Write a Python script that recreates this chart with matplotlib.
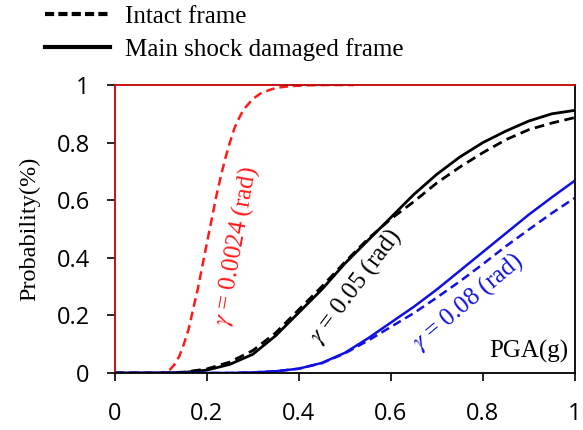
import matplotlib
matplotlib.use('Agg')
import matplotlib.pyplot as plt
from matplotlib.lines import Line2D

plt.rcParams['mathtext.fontset'] = 'stix'

# PGA grid (g)
pga = [0, 0.1, 0.15, 0.2, 0.25, 0.3, 0.35, 0.4, 0.45, 0.5,
       0.55, 0.6, 0.65, 0.7, 0.75, 0.8, 0.85, 0.9, 0.95, 1.0]

# gamma = 0.05 rad
p05_damaged = [0, 0, 0.002, 0.01, 0.03, 0.065, 0.13, 0.21, 0.29, 0.38,
               0.46, 0.54, 0.62, 0.69, 0.75, 0.80, 0.84, 0.875, 0.90, 0.912]
p05_intact = [0, 0, 0.003, 0.014, 0.038, 0.078, 0.14, 0.22, 0.30, 0.385,
              0.465, 0.535, 0.595, 0.66, 0.715, 0.765, 0.81, 0.845, 0.868, 0.887]

# gamma = 0.08 rad
p08_damaged = [0, 0, 0, 0, 0, 0.002, 0.006, 0.015, 0.035, 0.07,
               0.12, 0.175, 0.23, 0.29, 0.355, 0.42, 0.485, 0.55, 0.61, 0.668]
p08_intact = [0, 0, 0, 0, 0, 0.002, 0.006, 0.015, 0.034, 0.068,
              0.112, 0.16, 0.208, 0.262, 0.318, 0.378, 0.44, 0.498, 0.555, 0.608]

# gamma = 0.0024 rad (intact only)
pga_red = [0, 0.1, 0.11, 0.12, 0.13, 0.14, 0.15, 0.16, 0.17, 0.18, 0.19, 0.2,
           0.21, 0.22, 0.23, 0.24, 0.25, 0.26, 0.27, 0.28, 0.3, 0.32, 0.35,
           0.38, 0.42, 0.46, 0.52]
p0024_intact = [0, 0, 0.004, 0.012, 0.03, 0.058, 0.1, 0.15, 0.22, 0.29, 0.37, 0.45,
                0.53, 0.61, 0.68, 0.745, 0.8, 0.85, 0.885, 0.915, 0.952, 0.974, 0.99,
                0.996, 0.999, 1.0, 1.0]

fig = plt.figure(figsize=(5.83, 4.30), dpi=100)
ax = fig.add_axes([0.197, 0.1326, 0.789, 0.6697])

dash = (0, (3.5, 2))
ax.plot(pga_red, p0024_intact, color='#ff1a1a', lw=1.8, linestyle=dash)
ax.plot(pga, p05_intact, color='black', lw=2.0, linestyle=dash)
ax.plot(pga, p05_damaged, color='black', lw=2.0)
ax.plot(pga, p08_intact, color='#1010e0', lw=1.8, linestyle=dash)
ax.plot(pga, p08_damaged, color='#1010e0', lw=1.8)

ax.set_xlim(0, 1)
ax.set_ylim(0, 1)
ax.set_xticks([0, 0.2, 0.4, 0.6, 0.8, 1.0])
ax.set_xticklabels(['0', '0.2', '0.4', '0.6', '0.8', '1'])
ax.set_yticks([0, 0.2, 0.4, 0.6, 0.8, 1.0])
ax.set_yticklabels(['0', '0.2', '0.4', '0.6', '0.8', '1'])
for lab in ax.get_xticklabels() + ax.get_yticklabels():
    lab.set_family('Open Sans')
    lab.set_fontsize(17)
ax.tick_params(direction='out', length=6, width=1.2, color='black', pad=12)
ax.tick_params(axis='x', pad=15)

for s in ['left', 'top']:
    ax.spines[s].set_color('#c00000')
for s in ['right', 'bottom']:
    ax.spines[s].set_color('black')
for s in ax.spines.values():
    s.set_linewidth(1.3)

serif = 'Liberation Serif'
ax.set_ylabel('Probability(%)', family=serif, fontsize=17.5, labelpad=12)
ax.text(0.985, 0.035, 'PGA(g)', family=serif, fontsize=18, ha='right', va='bottom',
        transform=ax.transAxes)

ax.text(0.262, 0.44, r'$\gamma$ = 0.0024 (rad)', family=serif, fontsize=18, color='#ff1a1a',
        rotation=80, ha='center', va='center', rotation_mode='anchor')
ax.text(0.522, 0.30, r'$\gamma$ = 0.05 (rad)', family=serif, fontsize=18, color='black',
        rotation=53, ha='center', va='center', rotation_mode='anchor')
ax.text(0.767, 0.247, r'$\gamma$ = 0.08 (rad)', family=serif, fontsize=18, color='#1010e0',
        rotation=40, ha='center', va='center', rotation_mode='anchor')

handles = [Line2D([], [], color='black', lw=3, linestyle=(0, (2.2, 1.0))),
           Line2D([], [], color='black', lw=3)]
fig.legend(handles, ['Intact frame', 'Main shock damaged frame'],
           loc='upper left', bbox_to_anchor=(0.038, 1.04), frameon=False,
           prop={'family': serif, 'size': 18}, handlelength=2.6, labelspacing=0.4,
           handletextpad=0.6)

fig.savefig('out.png', dpi=100)
